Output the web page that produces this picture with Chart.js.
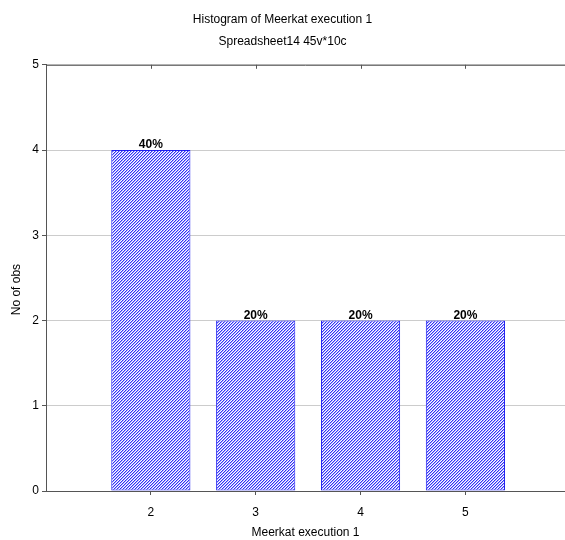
<!DOCTYPE html>
<html>
<head>
<meta charset="utf-8">
<script src="https://cdn.jsdelivr.net/npm/chart.js@4/dist/chart.umd.min.js"></script>
<style>
  html, body { margin: 0; padding: 0; background: #fff; }
  #wrap { width: 565px; height: 540px; }
</style>
</head>
<body>
<div id="wrap"><canvas id="myChart"></canvas></div>
<script>
// data
var bins = [2, 3, 4, 5];
var counts = [4, 2, 2, 2];
var xTickValues = [2, 3, 4, 5];
var yTickValues = [0, 1, 2, 3, 4, 5];

var FONT = "'Liberation Sans', Arial, sans-serif";

// pixel hatch "////" in blue
function hatch(ctx) {
  var c = document.createElement('canvas');
  c.width = 3; c.height = 3;
  var g = c.getContext('2d');
  for (var x = 0; x < 3; x++) {
    for (var y = 0; y < 3; y++) {
      var k = (x + y) % 3;
      g.fillStyle = k == 2 ? 'rgb(50,50,245)' : (k == 0 ? 'rgb(170,170,255)' : '#ffffff');
      g.fillRect(x, y, 1, 1);
    }
  }
  return ctx.createPattern(c, 'repeat');
}

var total = counts.reduce(function (a, b) { return a + b; }, 0);

// percent labels above bars + top frame line with ticks
var extras = {
  id: 'extras',
  afterDatasetsDraw: function (chart) {
    var ctx = chart.ctx;
    var meta = chart.getDatasetMeta(0);
    ctx.save();
    ctx.fillStyle = '#000';
    ctx.font = 'bold 12px ' + FONT;
    ctx.textAlign = 'center';
    ctx.textBaseline = 'bottom';
    meta.data.forEach(function (bar, i) {
      var pct = Math.round(counts[i] / total * 100) + '%';
      ctx.fillText(pct, bar.x, bar.y + 1);
    });
    var a = chart.chartArea;
    var xs = chart.scales.x;
    ctx.strokeStyle = '#555';
    ctx.lineWidth = 1;
    ctx.beginPath();
    ctx.moveTo(a.left, a.top + 0.5);
    ctx.lineTo(a.right, a.top + 0.5);
    xTickValues.forEach(function (v) {
      var px = Math.round(xs.getPixelForValue(v)) + 0.5;
      ctx.moveTo(px, a.top);
      ctx.lineTo(px, a.top + 4);
    });
    ctx.stroke();
    ctx.restore();
  }
};

function init() {
  var ctx = document.getElementById('myChart').getContext('2d');
  var chart = new Chart(ctx, {
    type: 'bar',
    data: {
      datasets: [{
        data: bins.map(function (b, i) { return { x: b, y: counts[i] }; }),
        backgroundColor: hatch(ctx),
        borderColor: 'rgb(30,30,240)',
        borderWidth: 1,
        borderSkipped: false,
        barPercentage: 0.755,
        categoryPercentage: 1
      }]
    },
    options: {
      responsive: true,
      maintainAspectRatio: false,
      animation: false,
      layout: { padding: { left: 0, right: 0, top: 0, bottom: 0 } },
      plugins: {
        legend: { display: false },
        tooltip: { enabled: false },
        title: {
          display: true,
          text: 'Histogram of Meerkat execution 1',
          color: '#000',
          font: { family: FONT, size: 12, weight: 'normal' },
          padding: { top: 12, bottom: 8 }
        },
        subtitle: {
          display: true,
          text: 'Spreadsheet14 45v*10c',
          color: '#000',
          font: { family: FONT, size: 12, weight: 'normal' },
          padding: { top: 0, bottom: 16 }
        }
      },
      scales: {
        x: {
          type: 'linear',
          offset: false,
          min: 1,
          max: 5.95,
          afterBuildTicks: function (scale) {
            scale.ticks = xTickValues.map(function (v) { return { value: v }; });
          },
          afterFit: function (scale) { scale.height = 49; },
          ticks: {
            color: '#000',
            font: { family: FONT, size: 12 },
            padding: 10,
            maxRotation: 0
          },
          grid: { offset: false, drawOnChartArea: false, drawTicks: true, tickLength: 4, color: '#555' },
          border: { display: true, color: '#555', width: 1 },
          title: {
            display: true,
            text: 'Meerkat execution 1',
            color: '#000',
            font: { family: FONT, size: 12 },
            padding: { top: 2, bottom: 0 }
          }
        },
        y: {
          min: 0,
          max: 5,
          afterBuildTicks: function (scale) {
            scale.ticks = yTickValues.map(function (v) { return { value: v }; });
          },
          afterFit: function (scale) { scale.width = 46; },
          ticks: {
            color: '#000',
            font: { family: FONT, size: 12 },
            padding: 3
          },
          grid: {
            color: '#cccccc',
            tickColor: '#555',
            tickLength: 4
          },
          border: { display: true, color: '#555', width: 1 },
          title: {
            display: true,
            text: 'No of obs       ',
            color: '#000',
            font: { family: FONT, size: 12 },
            padding: { top: 9, bottom: 0 }
          }
        }
      }
    },
    plugins: [extras]
  });
}

init();
</script>
</body>
</html>
